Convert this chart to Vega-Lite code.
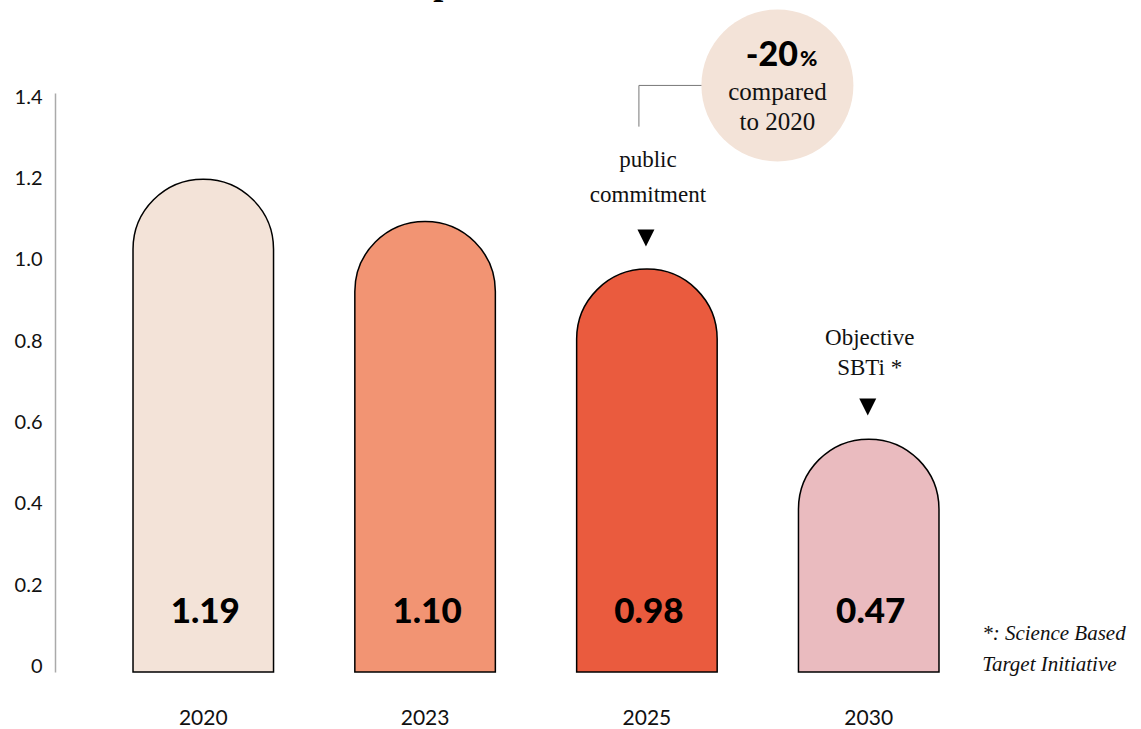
{
  "$schema": "https://vega.github.io/schema/vega-lite/v6.json",
  "width": 962,
  "height": 579,
  "autosize": {"type": "none"},
  "padding": {"left": 55, "top": 93, "right": 124, "bottom": 57},
  "background": "#ffffff",
  "config": {"view": {"stroke": null}},
  "data": {"values": [
    {"year": "2020", "y": 1.198, "label": "1.19"},
    {"year": "2023", "y": 1.094, "label": "1.10"},
    {"year": "2025", "y": 0.977, "label": "0.98"},
    {"year": "2030", "y": 0.559, "label": "0.47"}
  ]},
  "encoding": {
    "x": {
      "field": "year", "type": "nominal", "sort": null,
      "scale": {"domain": ["2020", "2023", "2025", "2030"], "paddingInner": 0.3665, "paddingOuter": 0.3517},
      "axis": {"title": null, "domain": false, "ticks": false, "labelAngle": 0, "labelFont": "Lato", "labelFontSize": 21, "labelColor": "#111111", "labelBaseline": "middle", "labelPadding": 46}
    },
    "y": {
      "field": "y", "type": "quantitative",
      "scale": {"domain": [-0.0135, 1.41], "nice": false, "zero": false},
      "axis": {"title": null, "values": [0, 0.2, 0.4, 0.6, 0.8, 1.0, 1.2, 1.4], "labelExpr": "datum.value == 0 ? '0' : format(datum.value, '.1f')", "grid": false, "ticks": false, "domain": true, "domainColor": "#aaaaaa", "domainWidth": 1.5, "labelFont": "Lato", "labelFontSize": 20, "labelColor": "#111111", "labelPadding": 13}
    }
  },
  "layer": [
    {
      "mark": {"type": "bar", "stroke": "#000000", "strokeWidth": 1.5, "cornerRadiusTopLeft": 70, "cornerRadiusTopRight": 70},
      "encoding": {
        "y2": {"datum": -0.0135},
        "color": {"field": "year", "type": "nominal", "legend": null,
          "scale": {"domain": ["2020", "2023", "2025", "2030"], "range": ["#F3E3D8", "#F29473", "#EA5B3E", "#EABBBF"]}}
      }
    },
    {
      "mark": {"type": "text", "font": "Lato", "fontWeight": 900, "fontSize": 35, "color": "#000000", "baseline": "alphabetic", "align": "center", "xOffset": 2},
      "encoding": {"y": {"datum": 0.107}, "text": {"field": "label"}}
    },
    {
      "data": {"values": [
        {"year": "2025", "y": 1.4286, "y2": 1.3273}
      ]},
      "mark": {"type": "rule", "color": "#777777", "strokeWidth": 1, "xOffset": -8},
      "encoding": {"y2": {"field": "y2"}}
    },
    {
      "data": {"values": [
        {"year": "2025", "year2": "2025", "y": 1.4286}
      ]},
      "mark": {"type": "rule", "color": "#777777", "strokeWidth": 1, "xOffset": -8, "x2Offset": 60},
      "encoding": {"x2": {"field": "year2"}}
    },
    {
      "data": {"values": [{"year": "2025", "y": 1.4286}]},
      "mark": {"type": "point", "shape": "circle", "filled": true, "size": 23104, "color": "#F3E3D8", "opacity": 1, "strokeWidth": 0, "xOffset": 130.5}
    },
    {
      "data": {"values": [{"year": "2025", "y": 1.4765, "text": "-20"}]},
      "mark": {"type": "text", "font": "Lato", "fontWeight": 900, "fontSize": 34, "color": "#000000", "align": "right", "baseline": "alphabetic", "xOffset": 151},
      "encoding": {"text": {"field": "text"}}
    },
    {
      "data": {"values": [{"year": "2025", "y": 1.4765, "text": "%"}]},
      "mark": {"type": "text", "font": "Lato", "fontWeight": 900, "fontSize": 21, "color": "#000000", "align": "left", "baseline": "alphabetic", "xOffset": 153},
      "encoding": {"text": {"field": "text"}}
    },
    {
      "data": {"values": [
        {"year": "2025", "y": 1.393, "text": "compared"},
        {"year": "2025", "y": 1.319, "text": "to 2020"}
      ]},
      "mark": {"type": "text", "font": "Liberation Serif", "fontSize": 25, "color": "#111111", "align": "center", "baseline": "alphabetic", "xOffset": 130.5},
      "encoding": {"text": {"field": "text"}}
    },
    {
      "data": {"values": [
        {"year": "2025", "y": 1.228, "text": "public"},
        {"year": "2025", "y": 1.1426, "text": "commitment"},
        {"year": "2030", "y": 0.7905, "text": "Objective"},
        {"year": "2030", "y": 0.7167, "text": "SBTi *"}
      ]},
      "mark": {"type": "text", "font": "Liberation Serif", "fontSize": 23, "color": "#111111", "align": "center", "baseline": "alphabetic", "xOffset": 1},
      "encoding": {"text": {"field": "text"}}
    },
    {
      "data": {"values": [
        {"year": "2025", "y": 1.0536},
        {"year": "2030", "y": 0.638}
      ]},
      "mark": {"type": "point", "shape": "M-1,-1L1,-1L0,1Z", "filled": true, "size": 289, "color": "#000000", "opacity": 1, "strokeWidth": 0, "xOffset": -1}
    },
    {
      "data": {"values": [
        {"year": "2030", "y": 0.0652, "text": "*: Science Based"},
        {"year": "2030", "y": -0.011, "text": "Target Initiative"}
      ]},
      "mark": {"type": "text", "font": "Liberation Serif", "fontStyle": "italic", "fontSize": 21, "color": "#111111", "align": "left", "baseline": "alphabetic", "xOffset": 113.5},
      "encoding": {"text": {"field": "text"}}
    },
    {
      "data": {"values": [{"year": "2020", "y": 1.654, "text": "p"}]},
      "mark": {"type": "text", "font": "Liberation Serif", "fontWeight": "bold", "fontSize": 36, "color": "#000000", "align": "left", "baseline": "alphabetic", "xOffset": 230},
      "encoding": {"text": {"field": "text"}}
    }
  ]
}
